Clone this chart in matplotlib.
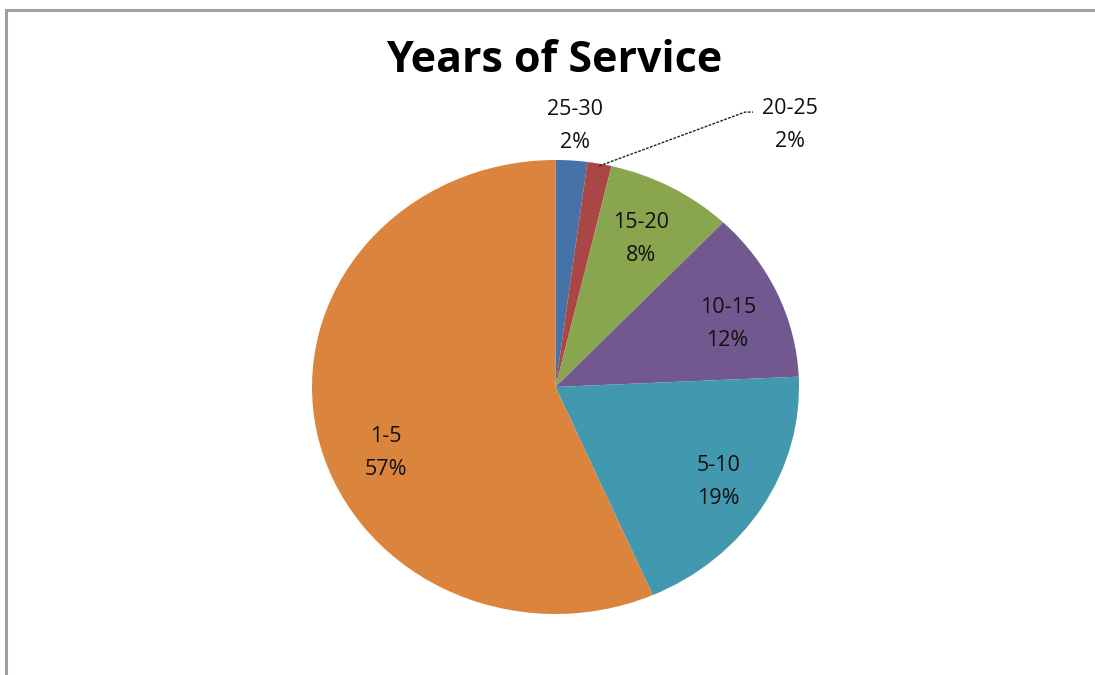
import numpy as np
import matplotlib
matplotlib.use("Agg")
import matplotlib.pyplot as plt
from matplotlib.patches import Rectangle

# %% Datos
categories = ["25-30", "20-25", "15-20", "10-15", "5-10", "1-5"]
shares = [2.1, 1.6, 8.4, 12.2, 19.2, 56.6]
colors = ["#4572A7", "#AA4643", "#89A54E", "#71588F", "#4198AF", "#DB843D"]

# %% Figura
W, H = 1095, 675
fig = plt.figure(figsize=(W / 100, H / 100), dpi=100, facecolor="white")

# borde gris del area del grafico
fig.patches.append(Rectangle((6 / W, -0.1), 1.2, 1 - 10 / H + 0.1,
                             transform=fig.transFigure, fill=False,
                             edgecolor="#a0a0a0", linewidth=2.2))

# pie estirado (eliptico) como en el original
left, right, top, bottom = 312, 799, 160, 614
ax = fig.add_axes([left / W, 1 - bottom / H, (right - left) / W, (bottom - top) / H])
wedges, _ = ax.pie(shares, colors=colors, startangle=90, counterclock=False,
                   radius=1, wedgeprops=dict(linewidth=0))
ax.set_aspect("auto")
ax.set_xlim(-1, 1)
ax.set_ylim(-1, 1)
ax.axis("off")

total = sum(shares)
pct = [round(s / total * 100) for s in shares]

# posicion de etiquetas: (radio, desplazamiento angular en grados)
label_pos = {"15-20": (0.74, 0), "10-15": (0.76, -3), "5-10": (0.79, 0), "1-5": (0.755, 11)}
font = dict(family="Open Sans", fontsize=15.5, color="#111111", ha="center", va="center",
            linespacing=1.75)

for w, cat, p in zip(wedges, categories, pct):
    mid = np.deg2rad((w.theta1 + w.theta2) / 2)
    txt = f"{cat}\n{p}%"
    if cat in label_pos:
        r, d = label_pos[cat]
        a = mid + np.deg2rad(d)
        ax.text(r * np.cos(a), r * np.sin(a), txt, **font)
    elif cat == "25-30":
        ax.text(0.08, 1.148, txt, **font)
    else:
        # etiqueta fuera con linea guia
        x0, y0 = np.cos(mid), np.sin(mid)
        ax.plot([x0 * 0.99, 0.778, 0.811], [y0 * 0.99, 1.211, 1.211], color="#222222",
                lw=1, linestyle=(0, (2, 1)), clip_on=False)
        ax.text(0.963, 1.153, txt, **font)

fig.text(554 / W, 1 - 61 / H, "Years of Service", family="Open Sans", fontweight="bold",
         fontsize=31, ha="center", va="center", color="black")

fig.savefig("out.png", dpi=100, facecolor="white")
